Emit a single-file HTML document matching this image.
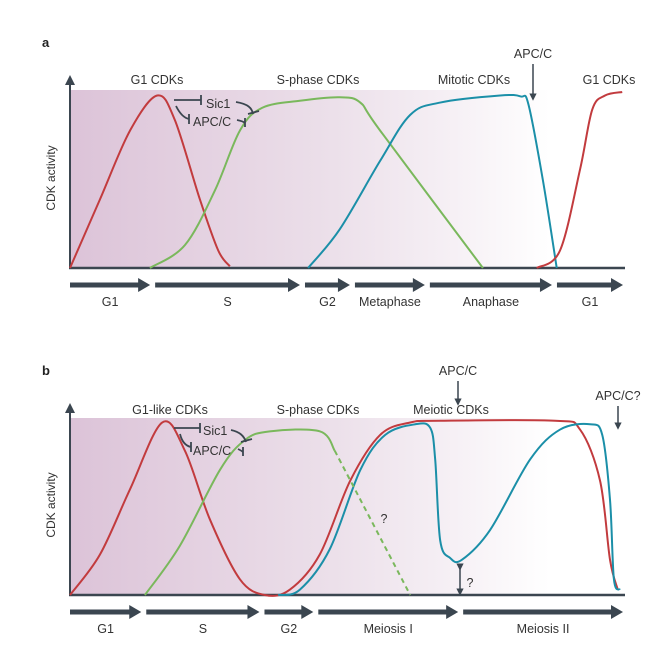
<!DOCTYPE html>
<html><head><meta charset="utf-8"><style>
body{margin:0;background:#fff}
svg{display:block;font-family:"Liberation Sans",sans-serif}
</style></head><body>
<svg id="c" width="661" height="645" viewBox="0 0 661 645">
<defs>
<linearGradient id="g" x1="0" x2="1" y1="0" y2="0">
<stop offset="0" stop-color="#dcc3d8"/><stop offset="0.55" stop-color="#ece0ea"/><stop offset="0.8" stop-color="#f6f0f5"/><stop offset="1" stop-color="#ffffff"/>
</linearGradient>
<marker id="ah" viewBox="0 0 10 10" refX="5" refY="5" markerWidth="5" markerHeight="5" orient="auto"><path d="M0,0L10,5L0,10z" fill="#3b4650"/></marker>
</defs>
<g id="pa"></g>
<g id="pb"></g>
</svg>
<script>
// Panel a series (t: 0-100 cell-cycle time, a: 0-1 activity)
const aRedT=[0,5.4,10.8,15.7,18.9,23.4,26.7,28.8];
const aRedA=[0,.39,.78,.98,.84,.39,.10,.01];
const aGreenT=[14.4,20.7,26.1,30.6,34.6,41.4,48.6,52.3,55.9,74.4];
const aGreenA=[0,.13,.44,.78,.91,.95,.97,.94,.78,0];
const aBlueT=[42.9,48.6,55.9,61.3,66.7,77.5,81.2,82.6,85.2,87.7];
const aBlueA=[0,.22,.61,.87,.94,.98,.975,.93,.5,0];
const aRed2T=[84.1,88.3,91.9,94.1,96.4,99.5];
const aRed2A=[0,.10,.56,.90,.98,1];
const aPhases=["G1","S","G2","Metaphase","Anaphase","G1"];
const aPhaseBounds=[0,14.8,41.8,50.8,64.3,87.2,100];
// Panel b series
const bRedT=[0,5.4,10.8,16.6,20.7,25.2,30.6,35.1,39.6,45,50.5,55.9,61.3,66.7,87.4,91.9,95.5,97.3,98.7];
const bRedA=[0,.23,.60,.98,.82,.43,.09,0,.03,.23,.65,.91,.98,.99,.99,.94,.65,.2,.03];
const bBlueT=[37.5,41.4,46.8,52.3,56.8,62.2,64.9,65.8,66.7,68.5,70.6,75.7,82.9,88.3,93.7,95.9,97.3,98,99.1];
const bBlueA=[0,.03,.26,.71,.91,.97,.95,.77,.31,.21,.20,.37,.77,.94,.97,.91,.54,.09,.03];
const bGreenT=[13.5,19.8,27,31.5,36,45,47.7];
const bGreenA=[0,.28,.71,.88,.93,.93,.82];
const bGreenDashT=[47.7,61.3];
const bGreenDashA=[.82,0];
const bPhases=["G1","S","G2","Meiosis I","Meiosis II"];
const bPhaseBounds=[0,13.2,34.5,44.2,70.3,100];

const NS="http://www.w3.org/2000/svg";
function mk(p,tag,at,txt){const e=document.createElementNS(NS,tag);for(const k in at)e.setAttribute(k,at[k]);if(txt!=null)e.textContent=txt;p.appendChild(e);return e;}
function sx(t){return 70+t*5.55;}
function smooth(pts){let d="M"+pts[0][0]+","+pts[0][1];for(let i=0;i<pts.length-1;i++){const p0=pts[i-1]||pts[i],p1=pts[i],p2=pts[i+1],p3=pts[i+2]||p2;
d+=" C"+(p1[0]+(p2[0]-p0[0])/6)+","+(p1[1]+(p2[1]-p0[1])/6)+" "+(p2[0]-(p3[0]-p1[0])/6)+","+(p2[1]-(p3[1]-p1[1])/6)+" "+p2[0]+","+p2[1];}return d;}
function panel(g,base,top,letter,phases,bounds){
  const sy=a=>base-a*176;
  const r=mk(g,"rect",{x:70,y:top,width:480,height:base-top,fill:"url(#g)"});
  
  
  const ax=mk(g,"line",{x1:70,y1:base,x2:70,y2:top-10,stroke:"#3b4650","stroke-width":2,"marker-end":"url(#ah)"});
  
  
  const bl=mk(g,"line",{x1:69,y1:base,x2:625,y2:base,stroke:"#3b4650","stroke-width":2.5});
  
  
  const yl=mk(g,"text",{x:0,y:0,transform:"translate(55,"+(base-90)+") rotate(-90)","text-anchor":"middle","font-size":12,fill:"#333"},"CDK activity");
  
  
  const lt=mk(g,"text",{x:42,y:top-43,"font-size":13,"font-weight":"bold",fill:"#222"},letter);
  
  
  for(let i=0;i<phases.length;i++){
    const x1=sx(bounds[i])+(i?3:0),x2=sx(bounds[i+1])-2;
    const ar=mk(g,"path",{d:"M"+x1+","+(base+17)+"L"+(x2-10)+","+(base+17),stroke:"#3b4650","stroke-width":5,fill:"none"});
    
    
    mk(g,"path",{d:"M"+(x2-12)+","+(base+10)+"L"+x2+","+(base+17)+"L"+(x2-12)+","+(base+24)+"z",fill:"#3b4650"});
    const pl=mk(g,"text",{x:(x1+x2)/2,y:base+38,"text-anchor":"middle","font-size":12.5,fill:"#333"},phases[i]);
    
    
  }
  return sy;
}
function curve(g,T,A,sy,col,name,dash){
  const pts=T.map((t,i)=>[sx(t),sy(A[i])]);
  const p=mk(g,"path",{d:smooth(pts),stroke:col,"stroke-width":2,fill:"none"});
  if(dash)p.setAttribute("stroke-dasharray","5,4");
  
  
}
function txt(g,x,y,s,name,anchor){const e=mk(g,"text",{x:x,y:y,"text-anchor":anchor||"middle","font-size":12.5,fill:"#333"},s);
  
  }
function down(g,x,y1,y2){const l=mk(g,"line",{x1:x,y1:y1,x2:x,y2:y2,stroke:"#3b4650","stroke-width":1.5,"marker-end":"url(#ah)"});
  
  }
function inhib(g,d){mk(g,"path",{d:d,stroke:"#3b4650","stroke-width":1.8,fill:"none"});}

const RED="#c23b3e",GREEN="#7ab85c",BLUE="#1b8fa8";
// panel a
const ga=document.getElementById("pa");
const sa=panel(ga,268,90,"a",aPhases,aPhaseBounds);
curve(ga,aRedT,aRedA,sa,RED,"g1-cdk-curve");
curve(ga,aGreenT,aGreenA,sa,GREEN,"s-phase-cdk-curve");
curve(ga,aBlueT,aBlueA,sa,BLUE,"mitotic-cdk-curve");
curve(ga,aRed2T,aRed2A,sa,RED,"g1-cdk-curve-next");
txt(ga,157,84,"G1 CDKs","label-g1-cdks");
txt(ga,318,84,"S-phase CDKs","label-s-phase-cdks");
txt(ga,474,84,"Mitotic CDKs","label-mitotic-cdks");
txt(ga,609,84,"G1 CDKs","label-g1-cdks-next");
txt(ga,533,58,"APC/C","label-apcc");
down(ga,533,64,97);
txt(ga,206,108,"Sic1","label-sic1","start");
txt(ga,193,126,"APC/C","label-apcc-inhibitor","start");
inhib(ga,"M174,100 L201,100 M201,95 L201,105 M236,102 C248,104 252,108 253,114 M248,114 L259,111");
inhib(ga,"M176,106 C180,114 184,118 189,119 M189,114 L189,124 M237,120 C242,121 244,122 245,123 M245,118 L245,127");
// panel b
const gb=document.getElementById("pb");
const sb=panel(gb,595,418,"b",bPhases,bPhaseBounds);
curve(gb,bRedT,bRedA,sb,RED,"meiotic-cdk-red-curve");
curve(gb,bBlueT,bBlueA,sb,BLUE,"meiotic-cdk-blue-curve");
curve(gb,bGreenT,bGreenA,sb,GREEN,"s-phase-cdk-curve-b");
curve(gb,bGreenDashT,bGreenDashA,sb,GREEN,"s-phase-cdk-uncertain",true);
txt(gb,170,414,"G1-like CDKs","label-g1-like-cdks");
txt(gb,318,414,"S-phase CDKs","label-s-phase-cdks-b");
txt(gb,451,414,"Meiotic CDKs","label-meiotic-cdks");
txt(gb,458,375,"APC/C","label-apcc-b");
down(gb,458,381,402);
txt(gb,618,400,"APC/C?","label-apcc-question");
down(gb,618,406,426);
txt(gb,384,523,"?","question-dashed");
txt(gb,470,587,"?","question-residual");
const da=mk(gb,"line",{x1:460,y1:567,x2:460,y2:592,stroke:"#3b4650","stroke-width":1.5,"marker-end":"url(#ah)","marker-start":"url(#ah)"});


txt(gb,203,435,"Sic1","label-sic1-b","start");
txt(gb,193,455,"APC/C","label-apcc-inhibitor-b","start");
inhib(gb,"M174,428 L200,428 M200,423 L200,433 M231,430 C240,432 244,436 246,442 M241,442 L252,439");
inhib(gb,"M180,434 C182,442 186,446 191,447 M191,442 L191,452 M238,449 C240,450 242,451 243,452 M243,447 L243,456");
</script>
</body></html>
